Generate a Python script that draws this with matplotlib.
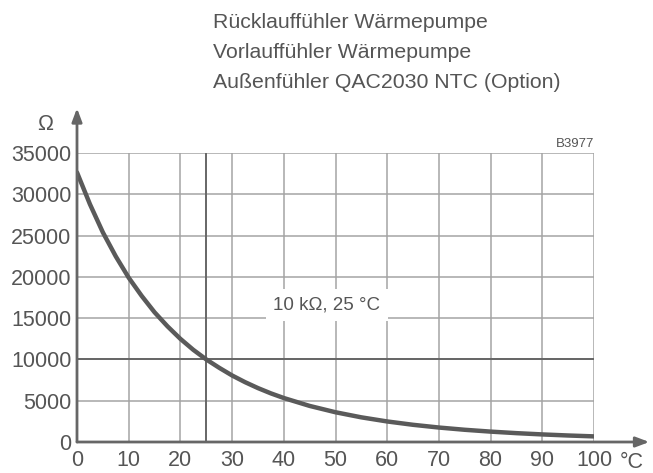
import matplotlib.pyplot as plt

# NTC 10k curve (denser where it is steep)
temps = [0, 2.5, 5, 7.5, 10, 12.5, 15, 17.5, 20, 22.5, 25, 27.5, 30, 32.5, 35, 37.5,
         40, 45, 50, 55, 60, 65, 70, 75, 80, 85, 90, 95, 100]
ohms = [32650, 28800, 25390, 22480, 19900, 17700, 15710, 14010, 12490, 11160,
        10000, 8990, 8057, 7250, 6530, 5890, 5327, 4370, 3603, 2986, 2488,
        2083, 1752, 1480, 1258, 1072, 917, 788, 680]
x_ticks = list(range(0, 101, 10))
y_ticks = list(range(0, 35001, 5000))
legend_lines = ["Rücklauffühler Wärmepumpe",
                "Vorlauffühler Wärmepumpe",
                "Außenfühler QAC2030 NTC (Option)"]

plt.rcParams['font.family'] = ['Liberation Sans', 'DejaVu Sans']
txt = '#555555'
grid_c = '#a4a4a4'
dark = '#666666'

fig = plt.figure(figsize=(6.53, 4.73), dpi=100)
ax = fig.add_axes([77/653, 31/473, 517/653, 289/473])

ax.set_xlim(0, 100)
ax.set_ylim(0, 35000)
for s in ax.spines.values():
    s.set_visible(False)

for xv in x_ticks[1:]:
    ax.axvline(xv, color=grid_c, lw=1.1, zorder=1)
for yv in y_ticks[1:]:
    ax.axhline(yv, color=grid_c, lw=1.1, zorder=1)
# reference point lines
ax.axvline(25, color=dark, lw=1.4, zorder=1)
ax.axhline(10000, color=dark, lw=1.4, zorder=1)

ax.plot(temps, ohms, color='#5a5a5a', lw=3.2, solid_capstyle='round',
        solid_joinstyle='round', zorder=3)

# axes with arrows
ax.annotate('', xy=(0, 1.155), xycoords='axes fraction', xytext=(0, 0),
            arrowprops=dict(arrowstyle='-|>,head_length=0.8,head_width=0.3',
                            color=dark, lw=2, shrinkA=0, shrinkB=0), zorder=4)
ax.annotate('', xy=(1.107, 0), xycoords='axes fraction', xytext=(0, 0),
            arrowprops=dict(arrowstyle='-|>,head_length=0.8,head_width=0.3',
                            color=dark, lw=2, shrinkA=0, shrinkB=0), zorder=4)

ax.set_xticks(x_ticks)
ax.set_yticks(y_ticks)
ax.tick_params(length=0, labelsize=15.5, labelcolor=txt)
ax.tick_params(axis='y', pad=4)
ax.tick_params(axis='x', pad=6)

ax.text(-0.062, 1.1, 'Ω', transform=ax.transAxes, fontsize=15.5, color=txt,
        ha='center', va='center')
ax.text(1.073, -0.07, '°C', transform=ax.transAxes, fontsize=15.5, color=txt,
        ha='center', va='center')
ax.text(1.0, 1.01, 'B3977', transform=ax.transAxes, fontsize=9.5, color=txt,
        ha='right', va='bottom')

ax.text(48.3, 16600, '10 kΩ, 25 °C', fontsize=13.5, color=txt, ha='center',
        va='center', zorder=5,
        bbox=dict(facecolor='white', edgecolor='none', pad=5.5))

for i, line in enumerate(legend_lines):
    fig.text(213/653, 1 - (22 + 30*i)/473, line, fontsize=15.3, color=txt,
             ha='left', va='center')

fig.savefig('out.png', dpi=100)
